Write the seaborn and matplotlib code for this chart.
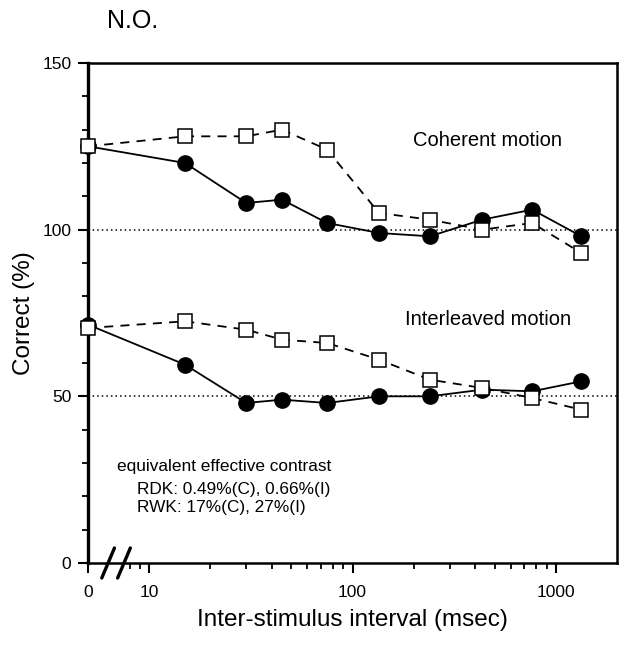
import numpy as np
import pandas as pd
import seaborn as sns
import matplotlib.pyplot as plt

# inter-stimulus intervals (msec); 0 is drawn at the axis break
isi = [0, 15, 30, 45, 75, 135, 240, 435, 765, 1335]
isi_pos = [5 if v == 0 else v for v in isi]

# coherent motion
coh_filled = [125, 120, 108, 109, 102, 99, 98, 103, 106, 98]
coh_open = [125, 128, 128, 130, 124, 105, 103, 100, 102, 93]
# interleaved motion
int_filled = [71.5, 59.5, 48, 49, 48, 50, 50, 52, 51.5, 54.5]
int_open = [70.5, 72.5, 70, 67, 66, 61, 55, 52.5, 49.5, 46]

chance = [100, 50]
xticks = [5, 10, 100, 1000]
xticklabels = ['0', '10', '100', '1000']
yticks = [0, 50, 100, 150]

sns.set_style('ticks')
plt.rcParams['font.family'] = ['Liberation Sans', 'DejaVu Sans']
for k in ['text.color', 'axes.labelcolor', 'xtick.color', 'ytick.color']:
    plt.rcParams[k] = 'black'

fig = plt.figure(figsize=(6.22, 6.46), dpi=100)
ax = fig.add_axes([0.1415, 0.1285, 0.8505, 0.774])

df = pd.DataFrame({'isi': isi_pos, 'coh_filled': coh_filled, 'coh_open': coh_open,
                   'int_filled': int_filled, 'int_open': int_open})

for col in ['coh_filled', 'int_filled']:
    sns.lineplot(data=df, x='isi', y=col, ax=ax, color='black', lw=1.3,
                 marker='o', markersize=11, markerfacecolor='black',
                 markeredgecolor='black', markeredgewidth=1,
                 estimator=None, sort=False, clip_on=False, zorder=3)
for col in ['coh_open', 'int_open']:
    sns.lineplot(data=df, x='isi', y=col, ax=ax, color='black', lw=1.3,
                 linestyle=(0, (5, 4)), marker='s', markersize=10.5,
                 markerfacecolor='white', markeredgecolor='black',
                 markeredgewidth=1.1, estimator=None, sort=False,
                 clip_on=False, zorder=4)

for c in chance:
    ax.axhline(c, color='black', lw=1.1, ls=(0, (1, 2)), zorder=1)

ax.set_xscale('log')
ax.set_xlim(5, 2000)
ax.set_ylim(0, 150)
ax.set_xticks(xticks)
ax.set_xticklabels(xticklabels)
minor_x = [8, 9] + list(range(20, 100, 10)) + list(range(200, 1000, 100))
ax.set_xticks(minor_x, minor=True)
ax.set_xticklabels([], minor=True)
ax.set_yticks(yticks)
ax.set_yticks([v for v in range(10, 150, 10) if v not in yticks], minor=True)

ax.tick_params(which='major', direction='out', length=7, width=1.5, labelsize=12.5)
ax.tick_params(which='minor', direction='out', length=4, width=1.3)
ax.tick_params(axis='x', which='major', pad=9)
ax.tick_params(axis='y', which='major', pad=5)
for s in ax.spines.values():
    s.set_linewidth(1.8)
    s.set_color('black')
ax.spines['left'].set_linewidth(2.4)

ax.set_xlabel('Inter-stimulus interval (msec)', fontsize=17.5)
ax.set_ylabel('Correct (%)', fontsize=17.5)
ax.xaxis.set_label_coords(0.5, -0.092)
ax.yaxis.set_label_coords(-0.1, 0.5)

# axis break marks
for xb in [0.038, 0.068]:
    ax.plot([xb - 0.012, xb + 0.012], [-0.03, 0.03], transform=ax.transAxes,
            color='black', lw=2.4, clip_on=False, zorder=5)

ax.text(0.614, 0.844, 'Coherent motion', transform=ax.transAxes,
        fontsize=14.5, va='center', ha='left')
ax.text(0.599, 0.486, 'Interleaved motion', transform=ax.transAxes,
        fontsize=14.5, va='center', ha='left')
ax.text(0.055, 0.192, 'equivalent effective contrast', transform=ax.transAxes,
        fontsize=12.4, va='center', ha='left')
ax.text(0.093, 0.146, 'RDK: 0.49%(C), 0.66%(I)', transform=ax.transAxes,
        fontsize=12.4, va='center', ha='left')
ax.text(0.093, 0.110, 'RWK: 17%(C), 27%(I)', transform=ax.transAxes,
        fontsize=12.4, va='center', ha='left')

fig.text(107 / 622, 1 - 21 / 646, 'N.O.', fontsize=18, va='center', ha='left')

fig.savefig('out.png', dpi=100)
